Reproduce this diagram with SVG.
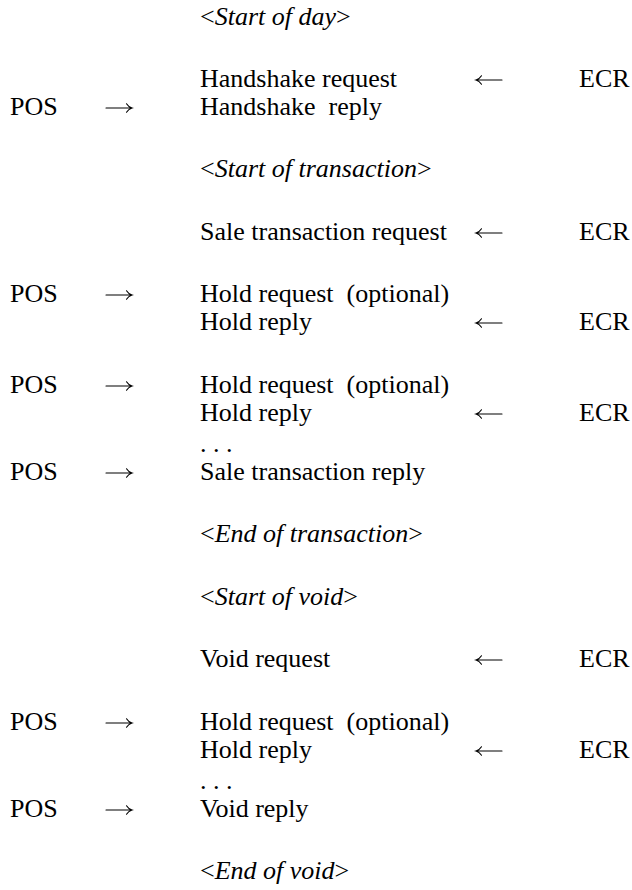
<svg xmlns="http://www.w3.org/2000/svg" width="632" height="890" viewBox="0 0 632 890">
<style>
text{font-family:"Liberation Serif","Times New Roman",serif;font-size:26px;fill:#000;white-space:pre}
.i{font-style:italic}
.arr{fill:none;stroke:#000;stroke-width:1.1;stroke-linecap:round}
</style>
<defs>
<path id="ra" class="arr" d="M0,0 H26 M20.5,-4.2 Q22.5,-1 26,0 Q22.5,1 20.5,4.2"/>
<path id="la" class="arr" d="M26,0 H0 M5.5,-4.2 Q3.5,-1 0,0 Q3.5,1 5.5,4.2"/>
</defs>
<rect width="632" height="890" fill="#fff"/>
<g id="labels">
<text x="200" y="25">&lt;<tspan class="i">Start of day</tspan>&gt;</text>
<text x="200" y="177">&lt;<tspan class="i">Start of transaction</tspan>&gt;</text>
<text x="200" y="542">&lt;<tspan class="i">End of transaction</tspan>&gt;</text>
<text x="200" y="605">&lt;<tspan class="i">Start of void</tspan>&gt;</text>
<text x="200" y="879">&lt;<tspan class="i">End of void</tspan>&gt;</text>
</g>
<g id="pos">
<text x="10" y="115">POS</text>
<text x="10" y="302">POS</text>
<text x="10" y="393">POS</text>
<text x="10" y="480">POS</text>
<text x="10" y="730">POS</text>
<text x="10" y="817">POS</text>
</g>
<g id="ecr">
<text x="579" y="87">ECR</text>
<text x="579" y="240">ECR</text>
<text x="579" y="330">ECR</text>
<text x="579" y="421">ECR</text>
<text x="579" y="667">ECR</text>
<text x="579" y="758">ECR</text>
</g>
<g id="messages">
<text x="200" y="87">Handshake request</text>
<text x="200" y="115">Handshake  reply</text>
<text x="200" y="240">Sale transaction request</text>
<text x="200" y="302">Hold request  (optional)</text>
<text x="200" y="330">Hold reply</text>
<text x="200" y="393">Hold request  (optional)</text>
<text x="200" y="421">Hold reply</text>
<text x="200" y="452">. . .</text>
<text x="200" y="480">Sale transaction reply</text>
<text x="200" y="667">Void request</text>
<text x="200" y="730">Hold request  (optional)</text>
<text x="200" y="758">Hold reply</text>
<text x="200" y="789">. . .</text>
<text x="200" y="817">Void reply</text>
</g>
<g id="connectors">
<use href="#ra" x="106" y="108"/>
<use href="#ra" x="106" y="295"/>
<use href="#ra" x="106" y="386"/>
<use href="#ra" x="106" y="473"/>
<use href="#ra" x="106" y="723"/>
<use href="#ra" x="106" y="810"/>
<use href="#la" x="476" y="80"/>
<use href="#la" x="476" y="233"/>
<use href="#la" x="476" y="323"/>
<use href="#la" x="476" y="414"/>
<use href="#la" x="476" y="660"/>
<use href="#la" x="476" y="751"/>
</g>
</svg>
